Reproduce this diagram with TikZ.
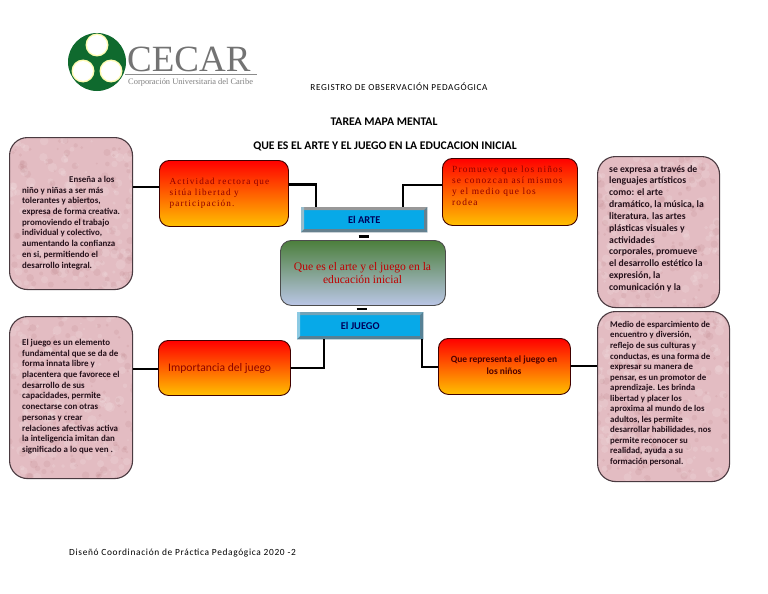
\documentclass[tikz,border=0pt]{standalone}
\usepackage{fontspec}
\setmainfont{Carlito}
\newfontfamily\serifsp[LetterSpace=12]{Liberation Serif}
\newfontfamily\serifpl{Liberation Serif}
\newfontfamily\carlsp[LetterSpace=7]{Carlito}
\usetikzlibrary{calc}
\definecolor{pinkfill}{HTML}{E3BCC2}
\definecolor{pinkedge}{HTML}{4A3A40}
\definecolor{txtdark}{HTML}{24101A}
\definecolor{cyanfill}{HTML}{07A9E8}
\definecolor{logogreen}{HTML}{0F6A2E}
\definecolor{orangebot}{HTML}{FFC000}
\definecolor{cgreen}{HTML}{4C7F3C}
\definecolor{cblue}{HTML}{BAC6E6}
\pgfmathsetseed{7}
\tikzset{
  x=1pt,y=-1pt,
  pinkbox/.style={draw=pinkedge,line width=1.1pt,fill=pinkfill,rounded corners=18pt,anchor=north west,inner sep=0pt,
    path picture={
      \foreach \i in {1,...,170}{
        \fill[white,opacity=.13] ($(path picture bounding box.center)+(rand*70,rand*90)$) circle ({1+rnd*4});
        \fill[red!40!black,opacity=.05] ($(path picture bounding box.center)+(rand*70,rand*90)$) circle ({1+rnd*3});
      }}},
  redbox/.style={draw=black!75!red,line width=.9pt,top color=red,bottom color=orangebot,rounded corners=10pt,anchor=north west,inner sep=0pt},
  centerbox/.style={draw=black!70,line width=.9pt,top color=cgreen,bottom color=cblue,rounded corners=11pt,anchor=north west,inner sep=0pt},
  bluebox/.style={fill=cyanfill,anchor=north west,inner sep=0pt},
  link/.style={draw=black,line width=2.6pt},
  pinktext/.style={anchor=north west,inner sep=0pt,align=left,text=txtdark,font=\bfseries\fontsize{8.9}{10.7}\selectfont},
  redserif/.style={anchor=north west,inner sep=0pt,align=left,text=red!55!black,font=\serifsp\fontsize{9.2}{11}\selectfont},
}
\newcommand{\bx}[6]{\node[#1,minimum width=#4pt-#2pt,minimum height=#5pt-#3pt] (#6) at (#2,#3) {};}
\newcommand{\bevel}[6]{%
  \fill[#3] (#1.north west)--(#1.north east)--++(-#2,#2)-|cycle;
  \fill[#4] (#1.north west)--(#1.south west)--++(#2,-#2)|-cycle;
  \fill[#5] (#1.north east)--(#1.south east)--++(-#2,-#2)--($(#1.north east)+(-#2,#2)$)--cycle;
  \fill[#6] (#1.south west)--(#1.south east)--++(-#2,-#2)--($(#1.south west)+(#2,-#2)$)--cycle;}
\begin{document}
\begin{tikzpicture}
\useasboundingbox (0,0) rectangle (768,594);
\fill[white] (0,0) rectangle (768,594);

% logo
\fill[logogreen] (97,62) circle (29);
\foreach \p in {(97,45),(83,71),(111,71)} {\fill[yellow!30!white] \p circle (11.5); \fill[white] \p circle (10);}
\node[anchor=west,inner sep=0pt,text=black!55,font=\serifpl\fontsize{37}{37}\selectfont] (logoname) at (127,59) {CECAR};
\draw[black!45,line width=1pt] (125,74.5) -- (257,74.5);
\node[anchor=west,inner sep=0pt,text=black!50,font=\serifpl\fontsize{8.4}{9}\selectfont] (logosub) at (128,82.5) {Corporación Universitaria del Caribe};

% titles
\node[inner sep=0pt,font=\carlsp\fontsize{9.2}{10}\selectfont] (reg) at (399,87) {REGISTRO DE OBSERVACIÓN PEDAGÓGICA};
\node[inner sep=0pt,font=\bfseries\fontsize{11.7}{12}\selectfont] (tarea) at (384,122) {TAREA MAPA MENTAL};
\node[inner sep=0pt,font=\bfseries\fontsize{11.7}{12}\selectfont] (que) at (385,146) {QUE ES EL ARTE Y EL JUEGO EN LA EDUCACION INICIAL};
\node[anchor=west,inner sep=0pt,font=\carlsp\fontsize{9.4}{10}\selectfont] (dis) at (69,553) {Diseñó Coordinación de Práctica Pedagógica 2020 -2};

% boxes
\bx{pinkbox}{9}{137}{132}{289}{pa}
\bx{pinkbox}{9}{316}{132}{478}{pb}
\bx{pinkbox}{597}{156}{719}{307}{pc}
\bx{pinkbox}{597}{311}{729}{481}{pd}
\bx{redbox}{159}{160}{288}{226}{ra}
\bx{redbox}{442}{158}{577}{225}{rb}
\bx{redbox}{158}{340}{290}{395}{rc}
\bx{redbox}{438}{338}{570}{394}{rd}
\bx{centerbox}{280}{240}{445}{305}{ce}
\bx{bluebox}{301}{207}{427}{232}{ar}
\bx{bluebox}{297}{312}{423}{339}{ju}
\bevel{ar}{3.2}{black!15!gray!70!white}{gray!60!cyan!70!white}{black!50!cyan!60!gray}{black!50!cyan!60!gray}
\bevel{ju}{3.2}{cyan!40!gray}{cyan!50!white!80!gray}{black!45!cyan!80!gray}{black!45!cyan!80!gray}

% connectors
\draw[link] (pa.east |- 0,187) -- (ra.west |- 0,187);
\draw[link] (ra.east |- 0,184.5) -| (316,207);
\draw[link] (rb.west |- 0,185) -| (403,207);
\draw[link] (pb.east |- 0,369) -- (rc.west |- 0,369);
\draw[link] (rc.east |- 0,368) -| (324,339);
\draw[link] (rd.west |- 0,367) -| (422,339);
\draw[link] (rd.east |- 0,366) -- (pd.west |- 0,366);
\coordinate (da) at ($(ar.south)!.5!(ce.north)$);
\coordinate (db) at ($(ce.south)!.5!(ju.north)$);
\draw[line width=2.8pt] ($(da)+(-5,0)$) -- ($(da)+(5,0)$);
\draw[line width=2.8pt] ($(db)+(-5,0)$) -- ($(db)+(5,0)$);

% labels
\node[inner sep=0pt,text=blue!35!black,font=\bfseries\fontsize{10.4}{10}\selectfont] (art) at (ar) {El ARTE};
\node[inner sep=0pt,text=blue!35!black,font=\bfseries\fontsize{10.4}{10}\selectfont] (jue) at (ju) {El JUEGO};
\node[inner sep=0pt,align=center,text=red!75!black,font=\serifpl\fontsize{11.6}{13}\selectfont] (cet) at (362.5,273.5) {Que es el arte y el juego en la\\educación inicial};
\node[redserif] (rat) at (169.5,178) {Actividad rectora que\\sitúa libertad y\\participación.};
\node[redserif,font=\serifsp\fontsize{9.4}{11}\selectfont] (rbt) at (452,166) {Promueve que los niños\\se conozcan así mismos\\y el medio que los\\rodea};
\node[inner sep=0pt,anchor=west,text=red!55!black,font=\fontsize{11.6}{12}\selectfont] (rct) at (168,368) {Importancia del juego};
\node[inner sep=0pt,align=center,text=red!30!black,font=\bfseries\fontsize{9.5}{12}\selectfont] (rdt) at (504,365) {Que representa el juego en\\los niños};

\node[pinktext] (pat) at (22,176) {\hspace*{47pt}Enseña a los\\niño y niñas a ser más\\tolerantes y abiertos,\\expresa de forma creativa.\\promoviendo el trabajo\\individual y colectivo,\\aumentando la confianza\\en si, permitiendo el\\desarrollo integral.};
\node[pinktext] (pbt) at (22,339) {El juego es un elemento\\fundamental que se da de\\forma innata libre y\\placentera que favorece el\\desarrollo de sus\\capacidades, permite\\conectarse con otras\\personas y crear\\relaciones afectivas activa\\la inteligencia imitan dan\\significado a lo que ven .};
\node[pinktext,font=\bfseries\fontsize{9.7}{11.85}\selectfont] (pct) at (609,165) {se expresa a través de\\lenguajes artísticos\\como: el arte\\dramático, la música, la\\literatura. las artes\\plásticas visuales y\\actividades\\corporales, promueve\\el desarrollo estético la\\expresión, la\\comunicación y la};
\node[pinktext,font=\bfseries\fontsize{8.8}{10.55}\selectfont] (pdt) at (610,321) {Medio de esparcimiento de\\encuentro y diversión,\\reflejo de sus culturas y\\conductas, es una forma de\\expresar su manera de\\pensar, es un promotor de\\aprendizaje. Les brinda\\libertad y placer los\\aproxima al mundo de los\\adultos, les permite\\desarrollar habilidades, nos\\permite reconocer su\\realidad, ayuda a su\\formación personal.};
\end{tikzpicture}
\end{document}
